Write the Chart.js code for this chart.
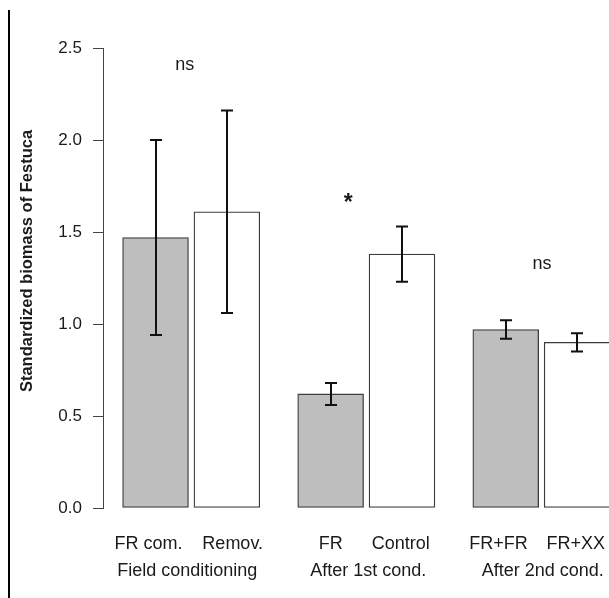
<!DOCTYPE html>
<html>
<head>
<meta charset="utf-8">
<script src="https://cdn.jsdelivr.net/npm/chart.js@4/dist/chart.umd.min.js"></script>
<style>
  html, body { margin: 0; padding: 0; background: #ffffff; overflow: hidden; }
  #wrap { width: 616px; height: 598px; }
</style>
</head>
<body>
<div id="wrap"><canvas id="c" width="616" height="598"></canvas></div>
<script>
// ---- data ----
const treatments = ['FR com.', 'Remov.', 'FR', 'Control', 'FR+FR', 'FR+XX'];
const phases = ['Field conditioning', 'After 1st cond.', 'After 2nd cond.'];
const biomass = [1.47, 1.61, 0.62, 1.38, 0.97, 0.90];
const stdErr = [0.53, 0.55, 0.06, 0.15, 0.05, 0.05];
const signif = ['ns', '*', 'ns'];
const yTicks = [0, 0.5, 1.0, 1.5, 2.0, 2.5];

// ---- layout (axis units: one bar = 1) ----
const BAR_W = 1, IN_GAP = 0.1, OUT_GAP = 0.6;
const X_MIN = -0.31, X_MAX = 7.6;
const CANVAS_W = 616, AXIS_W = 103;
const FONT = "'Liberation Sans', Arial, Helvetica, sans-serif";
const TEXT = '#1a1a1a';

// bar centres, barplot-style: pairs separated by a wider gap
const barX = [];
let cursor = 0;
treatments.forEach((t, i) => {
  if (i > 0) cursor += (i % 2 === 0) ? OUT_GAP : IN_GAP;
  barX.push(cursor + BAR_W / 2);
  cursor += BAR_W;
});

// text anchors (axis units / y values at the text baseline)
const labelX = [0.39, 1.69, 3.2, 4.28, 5.79, 6.98];
const phaseLabelX = [0.99, 3.78, 6.47];
const signifX = [0.95, 3.47, 6.46];
const signifY = [2.38, 1.62, 1.30];

const pxPerUnit = (CANVAS_W - AXIS_W) / (X_MAX - X_MIN);

const decorations = {
  id: 'decorations',
  beforeDraw(chart) {
    const ctx = chart.ctx;
    ctx.save();
    ctx.strokeStyle = '#000';
    ctx.lineWidth = 2;
    ctx.beginPath();
    ctx.moveTo(9, 10);
    ctx.lineTo(9, chart.height);
    ctx.stroke();
    ctx.restore();
  },
  afterDatasetsDraw(chart) {
    const ctx = chart.ctx;
    const xs = chart.scales.x, ys = chart.scales.y;
    const area = chart.chartArea;
    ctx.save();

    // error bars (mean ± SE)
    ctx.strokeStyle = '#111';
    ctx.lineWidth = 2;
    barX.forEach((bx, i) => {
      const x = Math.round(xs.getPixelForValue(bx));
      const yHi = ys.getPixelForValue(biomass[i] + stdErr[i]);
      const yLo = ys.getPixelForValue(biomass[i] - stdErr[i]);
      ctx.beginPath();
      ctx.moveTo(x, yHi); ctx.lineTo(x, yLo);
      ctx.moveTo(x - 6, yHi); ctx.lineTo(x + 6, yHi);
      ctx.moveTo(x - 6, yLo); ctx.lineTo(x + 6, yLo);
      ctx.stroke();
    });

    // significance marks
    ctx.fillStyle = TEXT;
    ctx.textAlign = 'center';
    ctx.textBaseline = 'alphabetic';
    signif.forEach((s, g) => {
      ctx.font = (s === '*' ? 'bold 23px ' : '18px ') + FONT;
      ctx.fillText(s, xs.getPixelForValue(signifX[g]), ys.getPixelForValue(signifY[g]));
    });

    // treatment and phase labels under the bars
    ctx.font = '18px ' + FONT;
    treatments.forEach((t, i) => {
      ctx.fillText(t, xs.getPixelForValue(labelX[i]), area.bottom + 41);
    });
    phases.forEach((p, g) => {
      ctx.fillText(p, xs.getPixelForValue(phaseLabelX[g]), area.bottom + 68);
    });

    // y-axis title
    ctx.font = 'bold 16.5px ' + FONT;
    ctx.textBaseline = 'middle';
    ctx.translate(27, 261);
    ctx.rotate(-Math.PI / 2);
    ctx.fillText('Standardized biomass of Festuca', 0, 0);
    ctx.restore();
  }
};

new Chart(document.getElementById('c'), {
  type: 'bar',
  data: {
    datasets: [{
      data: barX.map((x, i) => ({ x: x, y: biomass[i] })),
      backgroundColor: treatments.map((t, i) => i % 2 === 0 ? '#bebebe' : '#ffffff'),
      borderColor: '#3c3c3c',
      borderWidth: 1.3,
      borderSkipped: false,
      barThickness: BAR_W * pxPerUnit + 1
    }]
  },
  options: {
    responsive: false,
    animation: false,
    devicePixelRatio: 1,
    layout: { padding: { left: 0, right: 0, top: 48, bottom: 90 } },
    plugins: { legend: { display: false }, tooltip: { enabled: false } },
    scales: {
      x: {
        type: 'linear',
        min: X_MIN,
        max: X_MAX,
        offset: false,
        display: false
      },
      y: {
        min: 0,
        max: 2.5,
        afterFit(s) { s.width = AXIS_W; },
        afterBuildTicks(s) { s.ticks = yTicks.map(v => ({ value: v })); },
        ticks: {
          callback: v => Number(v).toFixed(1),
          font: { family: FONT, size: 17 },
          color: TEXT,
          padding: 11
        },
        grid: { drawOnChartArea: false, drawTicks: true, tickLength: 10, color: '#444', lineWidth: 1 },
        border: { display: true, color: '#444', width: 1 }
      }
    }
  },
  plugins: [decorations]
});
</script>
</body>
</html>
